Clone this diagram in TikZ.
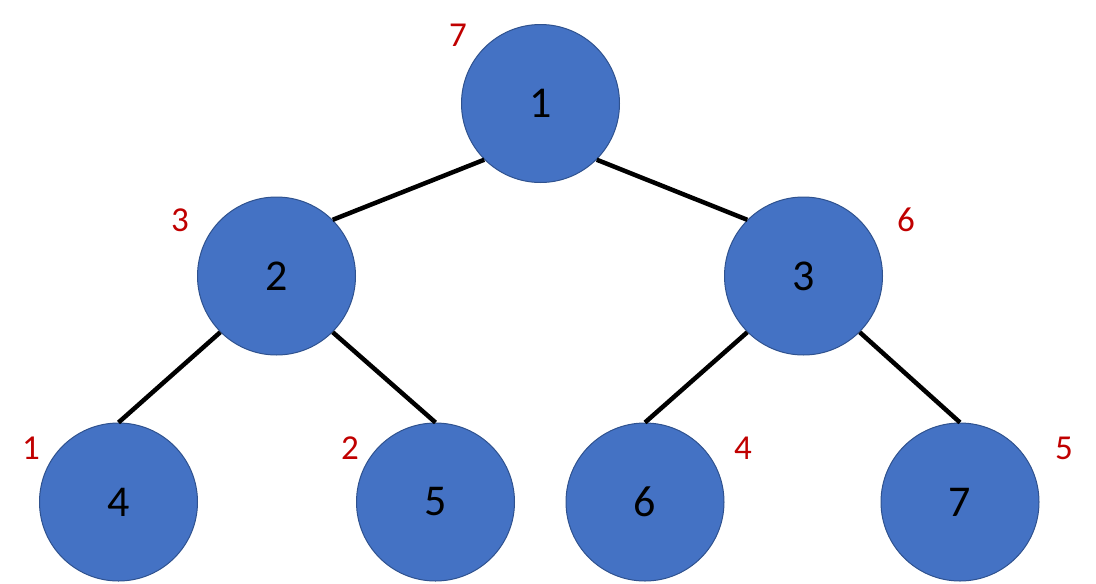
\documentclass[tikz,border=0pt]{standalone}
\usepackage{fontspec}
\setmainfont{Carlito}
\definecolor{nodeblue}{HTML}{4472C4}
\definecolor{nodeedge}{HTML}{2F528F}
\definecolor{lblred}{HTML}{C00000}
\begin{document}
\begin{tikzpicture}[x=1pt,y=-1pt,
  treenode/.style={circle, fill=nodeblue, draw=nodeedge, line width=1pt, minimum size=158pt, inner sep=0pt, font=\fontsize{44}{52}\selectfont, text=black},
  redlbl/.style={text=lblred, font=\fontsize{35}{42}\selectfont, inner sep=0pt},
  edge/.style={line width=4.5pt, black}]
\useasboundingbox (0,0) rectangle (1096,584);
\node[treenode] (n1) at (540.5,103.5) {1};
\node[treenode] (n2) at (276.5,276) {2};
\node[treenode] (n3) at (803.5,276) {3};
\node[treenode] (n4) at (118.5,502) {4};
\node[treenode] (n5) at (435.5,502) {5};
\node[treenode] (n6) at (645,502) {6};
\node[treenode] (n7) at (960,502) {7};
\draw[edge] (n1.south west) -- (n2.north east);
\draw[edge] (n1.south east) -- (n3.north west);
\draw[edge] (n2.south west) -- (n4.north);
\draw[edge] (n2.south east) -- (n5.north);
\draw[edge] (n3.south west) -- (n6.north);
\draw[edge] (n3.south east) -- (n7.north);
\node[redlbl] (l1) at (458,35) {7};
\node[redlbl] (l2) at (180,220) {3};
\node[redlbl] (l3) at (906,220) {6};
\node[redlbl] (l4) at (31,448) {1};
\node[redlbl] (l5) at (350,448) {2};
\node[redlbl] (l6) at (743,448) {4};
\node[redlbl] (l7) at (1064,448) {5};
\end{tikzpicture}
\end{document}
